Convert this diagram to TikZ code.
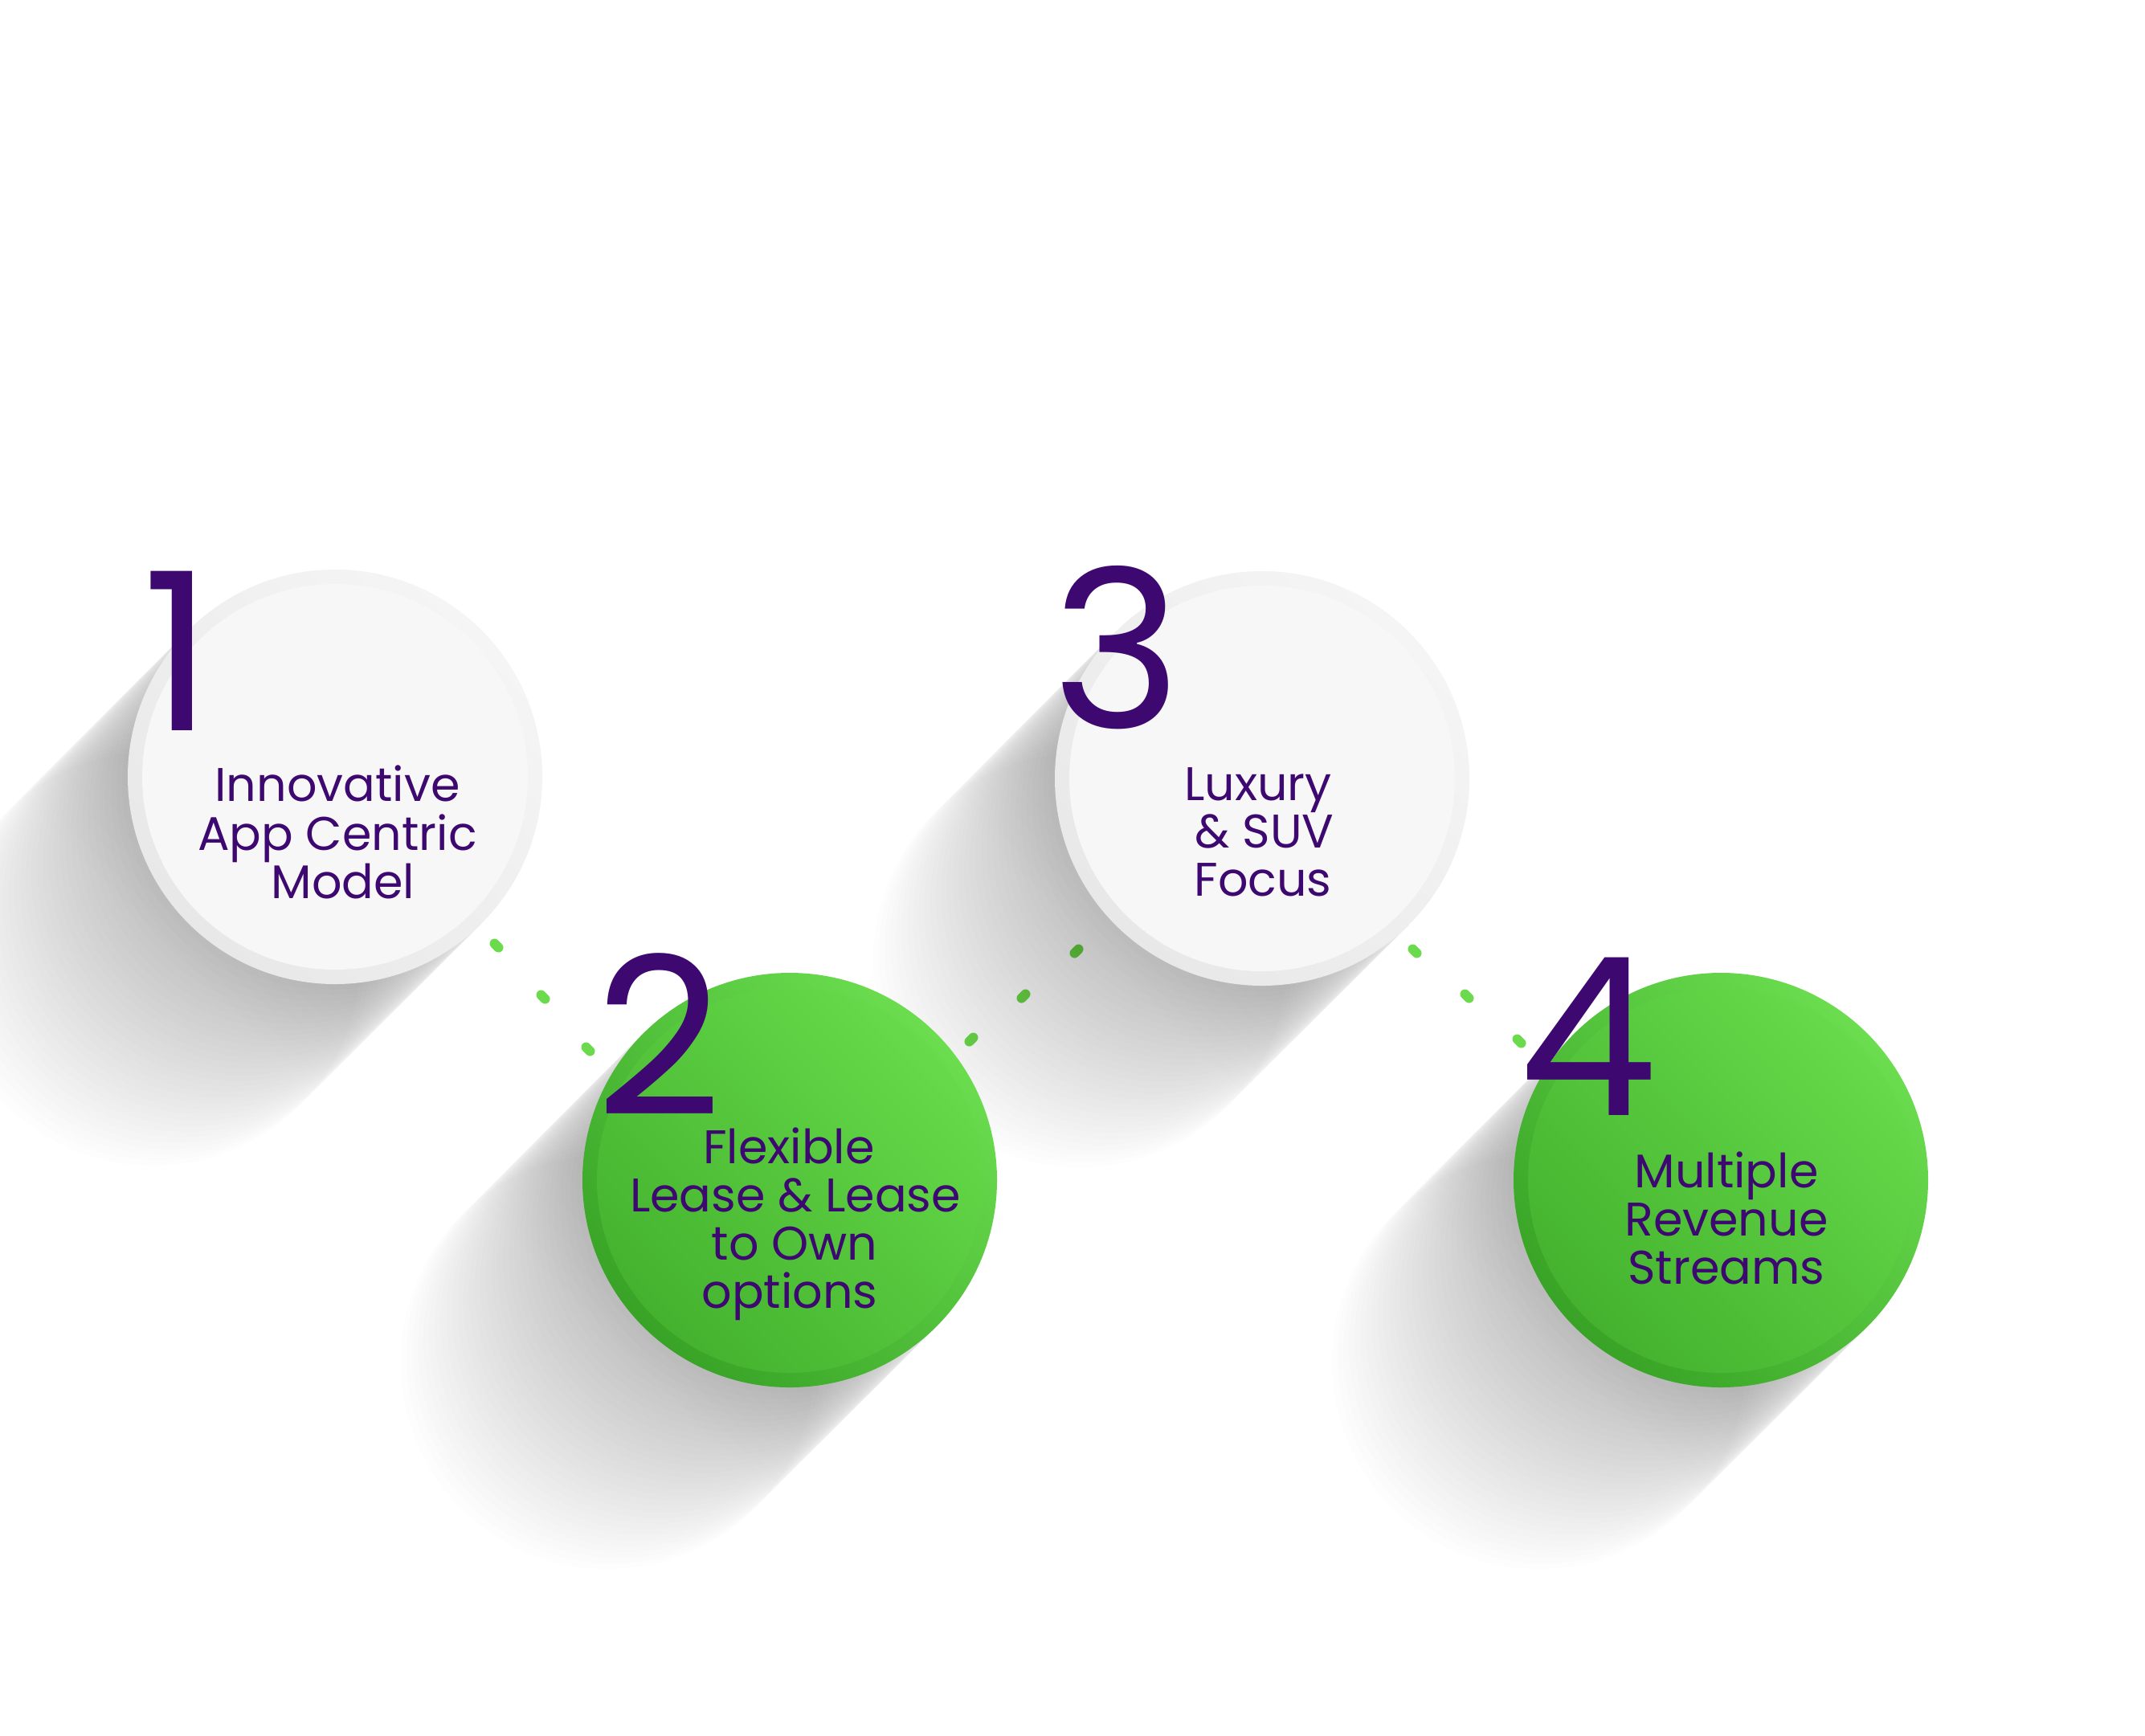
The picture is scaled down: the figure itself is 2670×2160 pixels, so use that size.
\documentclass[tikz,border=0pt]{standalone}
\usepackage{fontspec}
\setmainfont{Poppins}
\usetikzlibrary{calc}
\definecolor{txtc}{RGB}{61,8,112}
\definecolor{dotc}{RGB}{107,219,77}
\definecolor{shband}{RGB}{234,234,234}
\definecolor{gOutTR}{RGB}{107,221,79}
\definecolor{gOutBL}{RGB}{56,163,38}
\definecolor{gInTR}{RGB}{102,218,74}
\definecolor{gInBL}{RGB}{68,178,46}
\definecolor{wOutTR}{RGB}{245,245,245}
\definecolor{wOutBL}{RGB}{232,232,232}
\definecolor{wIn}{RGB}{247,247,247}
\begin{document}
\begin{tikzpicture}[x=0.01cm,y=-0.01cm,
  lbl/.style={text=txtc, font=\fontsize{16.7}{20}\selectfont, inner sep=0pt, anchor=base},
  num/.style={text=txtc, font=\fontsize{78}{86}\selectfont, inner sep=0pt, anchor=base},
  pill/.style={draw=dotc, line width=0.12cm, line cap=round},
  greenout/.style={top color=gOutTR, bottom color=gOutBL, shading angle=-45},
  greenin/.style={top color=gInTR, bottom color=gInBL, shading angle=-45},
  whiteout/.style={top color=wOutTR, bottom color=wOutBL, shading angle=-45},
  whitein/.style={fill=wIn},
  bandshade/.style={left color=shband, right color=white, blend mode=multiply},
  softshade/.style={fill=black, opacity=0.0062}]
\fill[white] (0,0) rectangle (2670,2160);
\useasboundingbox (0,0) rectangle (2670,2160);
\clip (0,0) rectangle (2670,2160);

\coordinate (c1) at (417,967);
\coordinate (c2) at (983,1469);
\coordinate (c3) at (1571,969);
\coordinate (c4) at (2142,1469);

% dotted connectors
\coordinate (d1) at (618,1177);
\coordinate (d2) at (676,1241);
\coordinate (d3) at (732,1306);
\coordinate (d4) at (1209,1294);
\coordinate (d5) at (1274,1240);
\coordinate (d6) at (1340,1184);
\coordinate (d7) at (1761,1184);
\coordinate (d8) at (1826,1240);
\coordinate (d9) at (1891,1296);
\foreach \d in {d1,d2,d3,d7,d8,d9}
  \draw[pill] (\d) ++(-2.5,-2.5) -- ++(5,5);
\foreach \d in {d4,d5,d6}
  \draw[pill] (\d) ++(-2.5,2.5) -- ++(5,-5);

% long shadows (sharp band near the disc + soft stacked tail)
\foreach \c in {c1,c2,c3,c4}{
  \begin{scope}[transform canvas={shift={(\c)}, rotate=225}]
    \shade[bandshade] (0,-258) rectangle (300,258);
    \foreach \k in {0,10,...,320}
      \fill[softshade] (\k,0) circle [radius=258];
  \end{scope}
}

% circles
\foreach \c in {c1,c3}{
  \shade[whiteout] (\c) circle [radius=258];
  \fill[whitein] (\c) circle [radius=240];
}
\foreach \c in {c2,c4}{
  \shade[greenout] (\c) circle [radius=258];
  \shade[greenin] (\c) circle [radius=240];
}

% numbers
\node[num] (n1) at (221,909) {1};
\node[num] (n2) at (820,1388) {2};
\node[num] (n3) at (1390,906) {3};
\node[num] (n4) at (1977,1388) {4};

% texts
\node[lbl] (t1a) at (420,997) {Innovative};
\node[lbl] (t1b) at (420,1058) {App Centric};
\node[lbl] (t1c) at (427,1118) {Model};

\node[lbl] (t2a) at (982,1448) {Flexible};
\node[lbl] (t2b) at (990,1508) {Lease \& Lease};
\node[lbl] (t2c) at (989,1568) {to Own};
\node[lbl] (t2d) at (983,1628) {options};

\node[lbl] (t3a) at (1566,996) {Luxury};
\node[lbl] (t3b) at (1574,1055) {\& SUV};
\node[lbl] (t3c) at (1572,1115) {Focus};

\node[lbl] (t4a) at (2149,1478) {Multiple};
\node[lbl] (t4b) at (2149,1538) {Revenue};
\node[lbl] (t4c) at (2149,1598) {Streams};
\end{tikzpicture}
\end{document}
